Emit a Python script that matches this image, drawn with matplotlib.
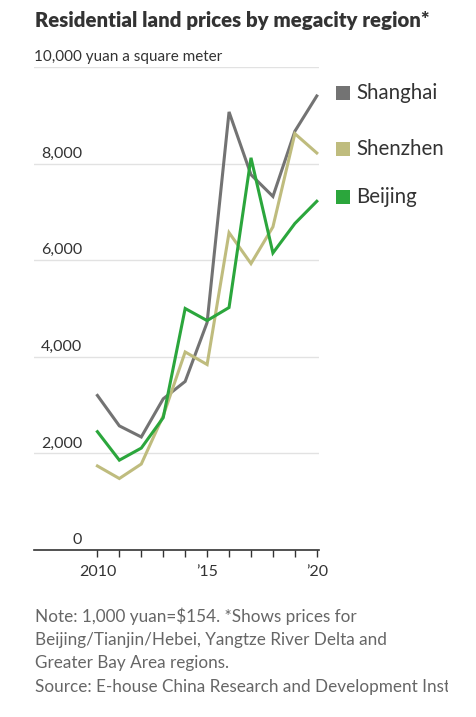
import matplotlib
matplotlib.use("Agg")
import matplotlib.pyplot as plt
from matplotlib.transforms import Bbox, TransformedBbox
from matplotlib.patches import Rectangle

years = list(range(2010, 2021))
shanghai = [3200, 2570, 2340, 3130, 3490, 4710, 9070, 7770, 7320, 8670, 9400]
shenzhen = [1740, 1480, 1780, 2780, 4100, 3840, 6570, 5930, 6690, 8620, 8220]
beijing = [2450, 1860, 2110, 2740, 5000, 4750, 5020, 8120, 6150, 6760, 7220]
series_names = ["Shanghai", "Shenzhen", "Beijing"]
series_colors = ["#737373", "#bfbc7e", "#2ba63c"]
ytick_vals = [0, 2000, 4000, 6000, 8000]
ytick_labels = ["0", "2,000", "4,000", "6,000", "8,000"]
xtick_vals = [2010, 2015, 2020]
xtick_labels = ["2010", "\u201915", "\u201920"]

W, H = 477, 717
plt.rcParams['font.family'] = ['Lato', 'DejaVu Sans']
fig = plt.figure(figsize=(W / 100, H / 100), dpi=100)

def fx(px):
    return px / W

def fy(py):
    return 1 - py / H

ax_left, ax_right, ax_top, ax_bot = 34, 319, 67, 550
ax = fig.add_axes([fx(ax_left), fy(ax_bot), fx(ax_right - ax_left), (ax_bot - ax_top) / H])
ax.set_xlim(2007.11, 2020.1)
ax.set_ylim(0, 10000)

for vals, c in zip([shanghai, shenzhen, beijing], series_colors):
    ax.plot(years, vals, color=c, lw=2.2, solid_joinstyle='miter', zorder=3)
for v in ytick_vals[1:] + [10000]:
    ax.axhline(v, color="#e2e2e2", lw=1, zorder=1)

for s in ["top", "right", "left"]:
    ax.spines[s].set_visible(False)
ax.spines["bottom"].set_color("#333333")
ax.spines["bottom"].set_linewidth(1.2)
ax.set_yticks([])
ax.set_xticks(years, minor=True)
ax.set_xticks(xtick_vals)
ax.set_xticklabels(xtick_labels, fontsize=11.5, color="#333333")
ax.tick_params(axis='x', which='both', direction='out', length=5, width=1, color="#333333", pad=6)

for v, lab in zip(ytick_vals, ytick_labels):
    ax.annotate(lab, xy=(0, v), xycoords=('axes fraction', 'data'), xytext=(48, 3),
                textcoords='offset pixels', ha='right', va='bottom', fontsize=11.5, color="#333333")
ax.annotate("10,000 yuan a square meter", xy=(0, 10000), xycoords=('axes fraction', 'data'),
            xytext=(0, 3), textcoords='offset pixels', ha='left', va='bottom', fontsize=11, color="#333333")

fig.text(fx(35), fy(20), "Residential land prices by megacity region*", fontsize=14.7,
         fontweight='heavy', color="#333333", ha='left', va='center')

leg_y = [93, 149, 197]
for name, c, yy in zip(series_names, series_colors, leg_y):
    fig.patches.append(Rectangle((fx(336), fy(yy + 7)), fx(14), 14 / H, transform=fig.transFigure,
                                 facecolor=c, edgecolor='none'))
    fig.text(fx(356), fy(yy), name, fontsize=14.8, color="#333333", ha='left', va='center')

notes = ["Note: 1,000 yuan=$154. *Shows prices for",
         "Beijing/Tianjin/Hebei, Yangtze River Delta and",
         "Greater Bay Area regions.",
         "Source: E-house China Research and Development Institute"]
clip = TransformedBbox(Bbox([[0, 0], [fx(448), 1]]), fig.transFigure)
for i, line in enumerate(notes):
    t = fig.text(fx(35), fy(616 + i * 23.7), line, fontsize=12.3, color="#666666", ha='left', va='center')
    t.set_clip_on(True)
    t.set_clip_box(clip)

fig.savefig("out.png", dpi=100, facecolor="white")
